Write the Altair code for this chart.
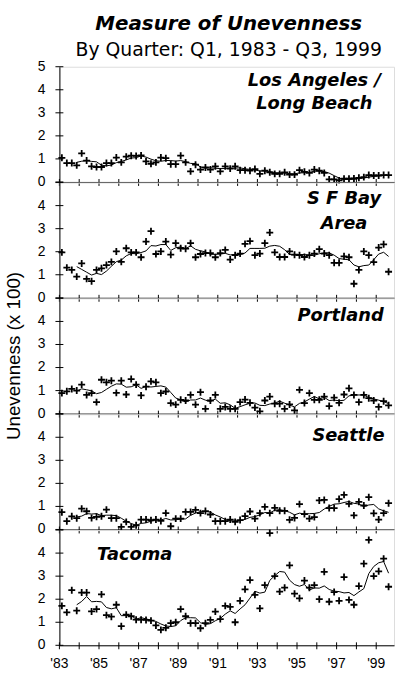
import altair as alt
import pandas as pd

# ---------------- data ----------------
start_year = 1983
n_quarters = 67  # Q1 1983 .. Q3 1999
tick_years = list(range(1983, 2000))
label_years = list(range(1983, 2000, 2))
x_tick_labels = ["'83", "'85", "'87", "'89", "'91", "'93", "'95", "'97", "'99"]
y_tick_values = [0, 1, 2, 3, 4, 5]
y_title = "Unevenness (x 100)"
main_title = "Measure of Unevenness"
sub_title = "By Quarter: Q1, 1983 - Q3, 1999"

series_names = ["Los Angeles / Long Beach", "S F Bay Area", "Portland", "Seattle", "Tacoma"]
panel_labels = [["Los Angeles /", "Long Beach"], ["S F Bay", "Area"], ["Portland"], ["Seattle"], ["Tacoma"]]

la = [1.05, 0.82, 0.82, 0.72, 1.24, 0.93, 0.68, 0.65, 0.65, 0.82,
      0.82, 1.06, 0.85, 1.10, 1.14, 1.13, 1.15, 0.89, 0.79, 0.85,
      1.06, 1.03, 0.77, 0.77, 1.14, 0.85, 0.46, 0.75, 0.54, 0.63,
      0.54, 0.68, 0.46, 0.68, 0.58, 0.68, 0.51, 0.51, 0.49, 0.56,
      0.35, 0.49, 0.42, 0.35, 0.35, 0.42, 0.32, 0.32, 0.51, 0.44,
      0.39, 0.54, 0.49, 0.39, 0.11, 0.11, 0.07, 0.14, 0.14, 0.15,
      0.18, 0.21, 0.30, 0.28, 0.28, 0.30, 0.30]

sf = [1.97, 1.31, 1.21, 0.92, 1.49, 0.82, 0.72, 1.21, 1.28, 1.42,
      1.56, 2.01, 1.56, 2.15, 1.97, 1.97, 1.76, 2.44, 2.89, 1.90,
      2.01, 2.44, 1.87, 2.37, 2.15, 2.13, 2.37, 1.76, 1.90, 1.94,
      1.94, 1.76, 1.94, 2.08, 1.66, 1.85, 1.92, 2.34, 2.46, 1.85,
      1.92, 2.37, 2.83, 1.97, 1.77, 1.77, 2.01, 1.87, 1.85, 1.77,
      1.85, 1.92, 2.11, 1.92, 1.85, 1.52, 1.52, 1.80, 1.76, 0.61,
      1.21, 2.01, 1.85, 1.55, 2.18, 2.32, 1.13]

portland = [0.89, 0.97, 1.07, 1.00, 1.26, 0.81, 0.89, 0.50, 1.47, 1.36,
            1.43, 0.90, 1.43, 0.83, 1.50, 1.26, 0.79, 1.17, 1.40, 1.36,
            0.89, 0.96, 0.46, 0.39, 0.60, 0.57, 0.81, 0.39, 0.93, 0.21,
            0.57, 0.81, 0.21, 0.29, 0.21, 0.21, 0.50, 0.61, 0.47, 0.26,
            0.10, 0.57, 0.74, 0.43, 0.43, 0.21, 0.40, 0.14, 1.03, 0.46,
            0.89, 0.60, 0.60, 0.74, 0.33, 0.69, 0.47, 0.83, 1.10, 0.81,
            0.50, 0.81, 0.67, 0.57, 0.29, 0.54, 0.36]

seattle = [0.75, 0.36, 0.57, 0.49, 0.90, 0.79, 0.50, 0.55, 0.57, 0.86,
           0.49, 0.49, 0.11, 0.33, 0.11, 0.18, 0.43, 0.43, 0.40, 0.43,
           0.37, 0.71, 0.14, 0.47, 0.47, 0.76, 0.76, 0.85, 0.71, 0.80,
           0.65, 0.36, 0.36, 0.36, 0.43, 0.33, 0.41, 0.58, 0.78, 0.47,
           0.71, 0.98, 0.71, 0.94, 0.81, 0.81, 0.42, 0.50, 1.10, 0.67,
           0.47, 0.54, 1.26, 1.28, 0.93, 0.93, 1.32, 1.50, 1.11, 0.61,
           1.20, 1.04, 1.40, 0.70, 0.43, 0.71, 1.14]

tacoma = [1.71, 1.43, 2.39, 1.50, 2.29, 2.29, 1.47, 1.57, 2.21, 1.31,
          1.24, 1.76, 0.83, 1.33, 1.26, 1.11, 1.11, 1.10, 1.07, 0.86,
          0.67, 0.76, 0.96, 1.00, 1.57, 1.26, 0.96, 0.96, 0.74, 0.96,
          1.10, 1.46, 1.14, 1.71, 1.67, 1.00, 1.93, 2.43, 2.83, 2.19,
          1.60, 2.61, 4.87, 3.00, 2.33, 2.50, 3.47, 2.24, 2.04, 2.81,
          2.50, 2.61, 2.00, 3.19, 1.89, 2.31, 1.93, 2.96, 1.97, 1.76,
          2.57, 3.54, 4.57, 3.00, 3.21, 3.76, 2.54]

all_values = [la, sf, portland, seattle, tacoma]

# ---------------- layout / style ----------------
PLOT_W = 338
PANEL_H = 116.4
# label line positions (pixels within each panel): (x center, baseline y)
label_pos = [[(257.5, 19), (257.5, 43)], [(287.5, 22), (287.5, 47)], [(284, 23)], [(292, 27)], [(76, 30)]]

TICK_FONT = "Liberation Sans"
LABEL_FONT = "DejaVu Sans"

x_scale = alt.Scale(domain=[1983, 1999.9], nice=False, zero=False)
y_scale = alt.Scale(domain=[0, 5], nice=False, zero=True)

axis_style = dict(labels=False, ticks=False, tickSize=0, grid=False, domain=True,
                  domainColor="black", domainWidth=1, title=None)
X = alt.X("t:Q", scale=x_scale, axis=alt.Axis(**axis_style))
Y = alt.Y("v:Q", scale=y_scale, axis=alt.Axis(**axis_style))

cross = "M-1,0L1,0M0,-1L0,1"


def make_panel(k):
    vals = all_values[k]
    df = pd.DataFrame({
        "i": list(range(len(vals))),
        "t": [start_year + (i + 0.5) / 4 for i in range(len(vals))],
        "v": vals,
    })
    top = k == 0
    bottom = k == len(series_names) - 1
    middle = k == 2

    # crossing y ticks on the left axis
    yticks = (alt.Chart(pd.DataFrame({"v": y_tick_values}))
              .mark_rule(color="black", strokeWidth=1, xOffset=-4, x2Offset=4)
              .encode(y=Y, x=alt.datum(1983), x2=alt.datum(1983)))

    # crossing x ticks on the bottom axis of each panel
    xticks = (alt.Chart(pd.DataFrame({"t": tick_years, "v": [0] * len(tick_years)}))
              .mark_rule(color="black", strokeWidth=1, yOffset=-3, y2Offset=4)
              .encode(x=X, y=Y, y2="v:Q"))

    # y tick labels
    yl_vals = y_tick_values if top else [v for v in y_tick_values if v < 5]
    ylabels = (alt.Chart(pd.DataFrame({"v": yl_vals, "lab": [str(v) for v in yl_vals]}))
               .mark_text(font=TICK_FONT, fontSize=14, align="right", baseline="middle",
                          dx=-14, color="black")
               .encode(y=Y, x=alt.datum(1983), text="lab:N"))

    points = alt.Chart(df).mark_point(shape=cross, size=49, strokeWidth=1.8, color="black",
                                      filled=False, opacity=1).encode(x=X, y=Y)

    line = (alt.Chart(df)
            .transform_window(ma="mean(v)", n="count()", frame=[-3, 0], sort=[alt.SortField("i")])
            .transform_filter("datum.n == 4")
            .mark_line(color="black", strokeWidth=1)
            .encode(x=X, y=alt.Y("ma:Q", scale=y_scale, axis=alt.Axis(**axis_style))))

    layers = [yticks, xticks, ylabels, line, points]

    if bottom:
        xlabels = (alt.Chart(pd.DataFrame({"t": label_years, "lab": x_tick_labels,
                                           "v": [0] * len(label_years)}))
                   .mark_text(font=TICK_FONT, fontSize=14, align="center", baseline="top",
                              dy=12, color="black")
                   .encode(x=X, y=Y, text="lab:N"))
        layers.append(xlabels)

    if middle:
        ytitle = (alt.Chart(pd.DataFrame({"txt": [y_title]}))
                  .mark_text(font="Liberation Sans", fontSize=19, angle=270, align="center",
                             baseline="middle", color="black")
                  .encode(x=alt.value(-46), y=alt.value(PANEL_H / 2), text="txt:N"))
        layers.append(ytitle)

    for txt, (px, py) in zip(panel_labels[k], label_pos[k]):
        layers.append(
            alt.Chart(pd.DataFrame({"txt": [txt]}))
            .mark_text(font=LABEL_FONT, fontSize=18, fontWeight="bold", fontStyle="italic",
                       align="center", baseline="alphabetic", color="black")
            .encode(x=alt.value(px), y=alt.value(py), text="txt:N")
        )
    return alt.layer(*layers).properties(width=PLOT_W, height=PANEL_H)


panels = [make_panel(k) for k in range(len(series_names))]

chart = (alt.vconcat(*panels, spacing=0, bounds="flush")
         .properties(
             title=alt.Title(text=main_title, subtitle=sub_title,
                             font=LABEL_FONT, fontSize=20, fontWeight="bold", fontStyle="italic",
                             color="black", subtitleFont=LABEL_FONT, subtitleFontSize=19,
                             subtitleColor="black", anchor="middle", frame="group", dx=2,
                             offset=-1, subtitlePadding=8),
             padding={"left": 4, "top": 10, "right": 0, "bottom": 0},
         )
         .configure_view(stroke=None)
         .configure(background="white"))

chart.save("out.html", embed_options={"renderer": "svg", "actions": False})
